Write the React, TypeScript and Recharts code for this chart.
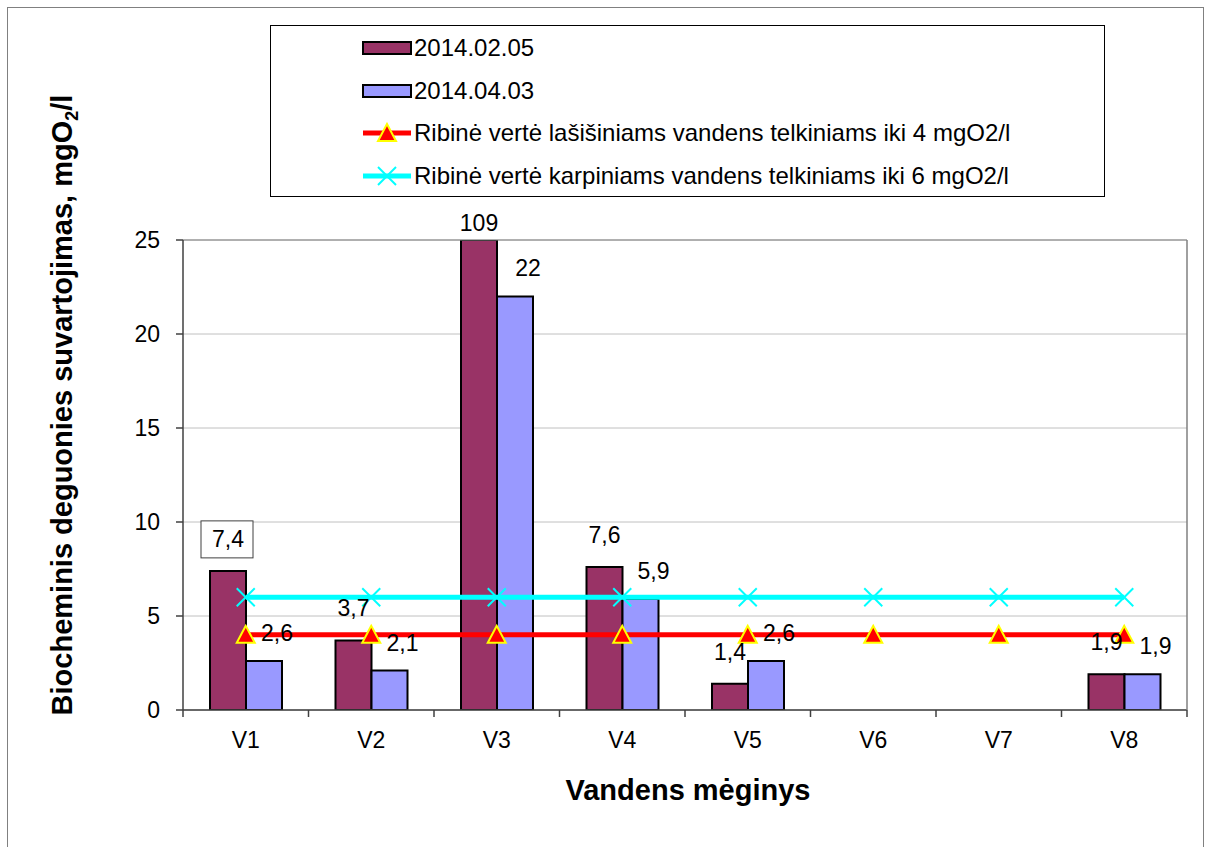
import React from 'react';
import {
  ComposedChart,
  Bar,
  Line,
  XAxis,
  YAxis,
  CartesianGrid,
  Legend,
  LabelList,
  Label,
} from 'recharts';

const categories = ['V1', 'V2', 'V3', 'V4', 'V5', 'V6', 'V7', 'V8'];
const series1 = [7.4, 3.7, 109, 7.6, 1.4, null, null, 1.9];
const series2 = [2.6, 2.1, 22, 5.9, 2.6, null, null, 1.9];
const limitSalmon = [4, 4, 4, 4, 4, 4, 4, 4];
const limitCarp = [6, 6, 6, 6, 6, 6, 6, 6];
const yTicks = [0, 5, 10, 15, 20, 25];
const boundaryTicks = [0, 1, 2, 3, 4, 5, 6, 7, 8];
const seriesNames = [
  '2014.02.05',
  '2014.04.03',
  'Ribinė vertė lašišiniams vandens telkiniams iki 4 mgO2/l',
  'Ribinė vertė karpiniams vandens telkiniams iki 6 mgO2/l',
];
const Y_MAX = 25;

const FONT = '"Liberation Sans", Arial, sans-serif';
const C1 = '#993366';
const C2 = '#9999FF';
const RED = '#FF0000';
const CYAN = '#00FFFF';
const YELLOW = '#FFFF00';

const data = categories.map((c, i) => ({
  cat: c,
  pos: i + 0.5,
  s1: series1[i] == null ? null : Math.min(series1[i] as number, Y_MAX),
  s1Raw: series1[i],
  s2: series2[i] == null ? null : Math.min(series2[i] as number, Y_MAX),
  s2Raw: series2[i],
  lim4: limitSalmon[i],
  lim6: limitCarp[i],
}));

const fmt = (v: number) => String(v).replace('.', ',');

const S1Label = (props: any) => {
  const { x, y, width, value, index } = props;
  if (value == null) return null;
  const cx = Number(x) + Number(width) / 2;
  const clipped = value > Y_MAX;
  const by = Number(y) - (clipped ? 9 : 24);
  return (
    <g>
      {index === 0 && (
        <rect x={cx - 27} y={by - 26} width={52} height={37} fill="#fff" stroke="#404040" strokeWidth={1} />
      )}
      <text x={cx} y={by} textAnchor="middle" fontFamily={FONT} fontSize={23} fill="#000">
        {fmt(value)}
      </text>
    </g>
  );
};

const S2Label = (props: any) => {
  const { x, y, width, value } = props;
  if (value == null) return null;
  const cx = Number(x) + Number(width) / 2 + 13;
  const by = Number(y) - 20;
  return (
    <text x={cx} y={by} textAnchor="middle" fontFamily={FONT} fontSize={23} fill="#000">
      {fmt(value)}
    </text>
  );
};

const Triangle = (props: any) => {
  const { cx, cy } = props;
  if (cx == null || cy == null) return null;
  return (
    <polygon
      points={`${cx},${cy - 9} ${cx - 9},${cy + 8} ${cx + 9},${cy + 8}`}
      fill={RED}
      stroke={YELLOW}
      strokeWidth={2}
    />
  );
};

const Cross = (props: any) => {
  const { cx, cy } = props;
  if (cx == null || cy == null) return null;
  return (
    <g stroke={CYAN} strokeWidth={2}>
      <line x1={cx - 9} y1={cy - 9} x2={cx + 9} y2={cy + 9} />
      <line x1={cx - 9} y1={cy + 9} x2={cx + 9} y2={cy - 9} />
    </g>
  );
};

const LegendIcon = ({ i }: { i: number }) => {
  if (i < 2) {
    return (
      <svg width={50} height={16} style={{ display: 'block' }}>
        <rect x={1} y={2} width={48} height={12} fill={i === 0 ? C1 : C2} stroke="#000" strokeWidth={2} />
      </svg>
    );
  }
  const color = i === 2 ? RED : CYAN;
  return (
    <svg width={50} height={22} style={{ display: 'block' }}>
      <line x1={1} y1={11} x2={49} y2={11} stroke={color} strokeWidth={5} />
      {i === 2 ? (
        <polygon points="25,2 16,19 34,19" fill={RED} stroke={YELLOW} strokeWidth={2} />
      ) : (
        <g stroke={CYAN} strokeWidth={2}>
          <line x1={16} y1={2} x2={34} y2={20} />
          <line x1={16} y1={20} x2={34} y2={2} />
        </g>
      )}
    </svg>
  );
};

const renderLegend = () => (
  <div
    style={{
      position: 'relative',
      width: 835,
      height: 172,
      border: '1px solid #000',
      boxSizing: 'border-box',
      background: '#fff',
      fontFamily: FONT,
      fontSize: 24,
      color: '#000',
    }}
  >
    {seriesNames.map((name, i) => (
      <div
        key={name}
        style={{
          position: 'absolute',
          left: 91,
          top: 22 + i * 42.7 - 15,
          height: 30,
          display: 'flex',
          alignItems: 'center',
          whiteSpace: 'nowrap',
        }}
      >
        <LegendIcon i={i} />
        <span style={{ marginLeft: 2, lineHeight: '30px' }}>{name}</span>
      </div>
    ))}
  </div>
);

const YTitle = (props: any) => {
  const vb = props.viewBox || {};
  const x = Number(vb.x) - 51;
  const y = Number(vb.y) + Number(vb.height) / 2 - 70;
  return (
    <text
      x={x}
      y={y}
      transform={`rotate(-90, ${x}, ${y})`}
      textAnchor="middle"
      fontFamily={FONT}
      fontSize={29}
      fontWeight="bold"
      fill="#000"
    >
      <tspan>Biocheminis deguonies suvartojimas, mgO</tspan>
      <tspan fontSize={18} dy={6}>2</tspan>
      <tspan dy={-6}>/l</tspan>
    </text>
  );
};

const XTitle = (props: any) => {
  const vb = props.viewBox || {};
  const x = Number(vb.x) + Number(vb.width) / 2 + 3;
  const y = Number(vb.y) + 89;
  return (
    <text x={x} y={y} textAnchor="middle" fontFamily={FONT} fontSize={29} fontWeight="bold" fill="#000">
      Vandens mėginys
    </text>
  );
};

export default function App() {
  return (
    <div style={{ position: 'absolute', left: 0, top: 0, width: 1205, height: 847, overflow: 'hidden', background: '#fff' }}>
      <div
        style={{
          position: 'absolute',
          left: 7,
          top: 7,
          width: 1197,
          height: 900,
          border: '1px solid #808080',
          boxSizing: 'border-box',
        }}
      />
      <div style={{ position: 'absolute', left: 0, top: 0 }}>
        <ComposedChart
          width={1205}
          height={847}
          data={data}
          margin={{ top: 239, right: 17, bottom: 76, left: 123 }}
          barGap={0}
          style={{ fontFamily: FONT }}
        >
          <CartesianGrid
            vertical={false}
            horizontal
            stroke="#C0C0C0"
            strokeWidth={1}
            xAxisId="b"
            yAxisId="left"
          />
          <XAxis
            xAxisId="a"
            type="number"
            dataKey="pos"
            domain={[0, 8]}
            allowDataOverflow
            ticks={boundaryTicks}
            interval={0}
            height={1}
            tickSize={7}
            tickMargin={0}
            tickFormatter={() => ''}
            axisLine={{ stroke: '#404040', strokeWidth: 1.5 }}
            tickLine={{ stroke: '#404040', strokeWidth: 1.5 }}
          />
          <XAxis
            xAxisId="b"
            dataKey="cat"
            height={60}
            tickSize={0}
            tickMargin={21}
            axisLine={false}
            tickLine={false}
            tick={{ fontSize: 23, fill: '#000', fontFamily: FONT }}
          >
            <Label content={XTitle} />
          </XAxis>
          <XAxis
            xAxisId="top"
            orientation="top"
            dataKey="cat"
            height={1}
            tick={false}
            tickLine={false}
            axisLine={{ stroke: '#808080', strokeWidth: 1 }}
          />
          <YAxis
            yAxisId="left"
            domain={[0, Y_MAX]}
            ticks={yTicks}
            allowDataOverflow
            width={60}
            tickSize={7}
            tickMargin={16}
            axisLine={{ stroke: '#404040', strokeWidth: 1.5 }}
            tickLine={{ stroke: '#404040', strokeWidth: 1.5 }}
            tick={{ fontSize: 23, fill: '#000', fontFamily: FONT }}
          >
            <Label content={YTitle} />
          </YAxis>
          <YAxis
            yAxisId="right"
            orientation="right"
            domain={[0, Y_MAX]}
            width={1}
            tick={false}
            tickLine={false}
            axisLine={{ stroke: '#808080', strokeWidth: 1.5 }}
          />
          <Legend
            layout="vertical"
            align="center"
            verticalAlign="middle"
            content={renderLegend}
            wrapperStyle={{ position: 'absolute', left: 270, top: 25, width: 835, height: 172 }}
          />
          <Bar
            xAxisId="b"
            yAxisId="left"
            dataKey="s1"
            name={seriesNames[0]}
            fill={C1}
            stroke="#000"
            strokeWidth={2}
            barSize={36}
            isAnimationActive={false}
          >
            <LabelList dataKey="s1Raw" content={S1Label} />
          </Bar>
          <Bar
            xAxisId="b"
            yAxisId="left"
            dataKey="s2"
            name={seriesNames[1]}
            fill={C2}
            stroke="#000"
            strokeWidth={2}
            barSize={36}
            isAnimationActive={false}
          >
            <LabelList dataKey="s2Raw" content={S2Label} />
          </Bar>
          <Line
            xAxisId="a"
            yAxisId="left"
            dataKey="lim4"
            name={seriesNames[2]}
            stroke={RED}
            strokeWidth={5}
            dot={<Triangle />}
            activeDot={false}
            isAnimationActive={false}
          />
          <Line
            xAxisId="a"
            yAxisId="left"
            dataKey="lim6"
            name={seriesNames[3]}
            stroke={CYAN}
            strokeWidth={5}
            dot={<Cross />}
            activeDot={false}
            isAnimationActive={false}
          />
        </ComposedChart>
      </div>
    </div>
  );
}
